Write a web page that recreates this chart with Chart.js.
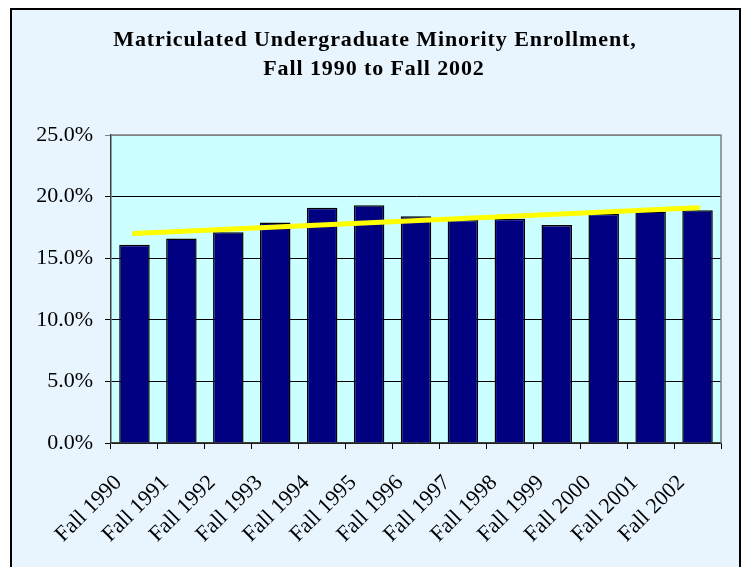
<!DOCTYPE html>
<html>
<head>
<meta charset="utf-8">
<script src="https://cdn.jsdelivr.net/npm/chart.js@4/dist/chart.umd.min.js"></script>
<style>
    html, body { margin: 0; padding: 0; background: #ffffff; }
    body { width: 744px; height: 567px; overflow: hidden; position: relative; }
    #frame {
        position: absolute; left: 10px; top: 8px; width: 727px; height: 600px;
        border: 2px solid #000000; background: #e8f5fe;
    }
    #wrap { position: absolute; left: 0; top: 0; width: 744px; height: 567px; }
</style>
</head>
<body>
<div id="frame"></div>
<div id="wrap"><canvas id="enrollChart" width="744" height="567"></canvas></div>
<script>
// Fall terms on the x axis
const terms = [
    "Fall 1990", "Fall 1991", "Fall 1992", "Fall 1993", "Fall 1994", "Fall 1995", "Fall 1996",
    "Fall 1997", "Fall 1998", "Fall 1999", "Fall 2000", "Fall 2001", "Fall 2002",
];
// minority share of matriculated undergraduates, percent
const minorityPct = [16.1, 16.6, 17.1, 17.9, 19.1, 19.3, 18.4, 18.1, 18.2, 17.7, 18.6, 18.8, 18.9];
// linear trend, only its two ends are drawn
const trendPct = [17.0, null, null, null, null, null, null, null, null, null, null, null, 19.1];
const yTicks = [0, 5, 10, 15, 20, 25];
const titleLines = ["Matriculated Undergraduate Minority Enrollment,", "Fall 1990 to Fall 2002"];

const serif = "'Liberation Serif', 'Times New Roman', serif";

// light cyan plot background, grey frame round the plot area, and the title
const plotFrame = {
    id: "plotFrame",
    beforeDraw(chart) {
        const { ctx, chartArea: a } = chart;
        ctx.save();
        ctx.fillStyle = "#ccffff";
        ctx.fillRect(a.left, a.top, a.right - a.left, a.bottom - a.top);
        ctx.restore();
    },
    afterDatasetsDraw(chart) {
        const { ctx, chartArea: a } = chart;
        ctx.save();
        ctx.strokeStyle = "#808080";
        ctx.lineWidth = 1.5;
        ctx.beginPath();
        ctx.moveTo(a.left, a.top);
        ctx.lineTo(a.right, a.top);
        ctx.lineTo(a.right, a.bottom);
        ctx.stroke();
        ctx.restore();
    },
    afterDraw(chart) {
        const { ctx } = chart;
        ctx.save();
        ctx.fillStyle = "#000000";
        ctx.font = "bold 22px " + serif;
        ctx.textAlign = "center";
        ctx.textBaseline = "alphabetic";
        ctx.letterSpacing = "0.9px";
        ctx.fillText(titleLines[0], 375, 46);
        ctx.fillText(titleLines[1], 374, 74.5);
        ctx.restore();
    },
};

new Chart(document.getElementById("enrollChart"), {
    type: "bar",
    data: {
        labels: terms,
        datasets: [
            {
                type: "line",
                data: trendPct,
                spanGaps: true,
                borderColor: "#ffff00",
                borderWidth: 5,
                borderCapStyle: "round",
                pointRadius: 0,
                order: 0,
            },
            {
                data: minorityPct,
                backgroundColor: "#000080",
                borderColor: "#000000",
                borderWidth: 1.5,
                categoryPercentage: 1,
                barPercentage: 0.65,
                order: 1,
            },
        ],
    },
    options: {
        responsive: false,
        animation: false,
        layout: { padding: { left: 0, right: 23, top: 135, bottom: 0 } },
        plugins: {
            legend: { display: false },
            tooltip: { enabled: false },
            title: { display: false },
        },
        scales: {
            x: {
                grid: { drawOnChartArea: false, drawTicks: true, tickLength: 6, color: "#000000" },
                border: { color: "#404040", width: 1.5 },
                ticks: {
                    minRotation: 45,
                    maxRotation: 45,
                    font: { family: serif, size: 22 },
                    color: "#000000",
                    padding: 21,
                    labelOffset: -16,
                },
                afterFit(scale) { scale.height = 124; },
            },
            y: {
                min: 0,
                max: 25,
                afterBuildTicks(scale) { scale.ticks = yTicks.map((v) => ({ value: v })); },
                grid: {
                    color: (c) => (c.tick && c.tick.value === 25 ? "#808080" : "#000000"),
                    lineWidth: 1,
                    tickLength: 6,
                },
                border: { color: "#404040", width: 1.5 },
                ticks: {
                    font: { family: serif, size: 22 },
                    color: "#000000",
                    padding: 12,
                    callback: (v) => v.toFixed(1) + "%",
                },
                afterFit(scale) { scale.width = 111; },
            },
        },
    },
    plugins: [plotFrame],
});
</script>
</body>
</html>
